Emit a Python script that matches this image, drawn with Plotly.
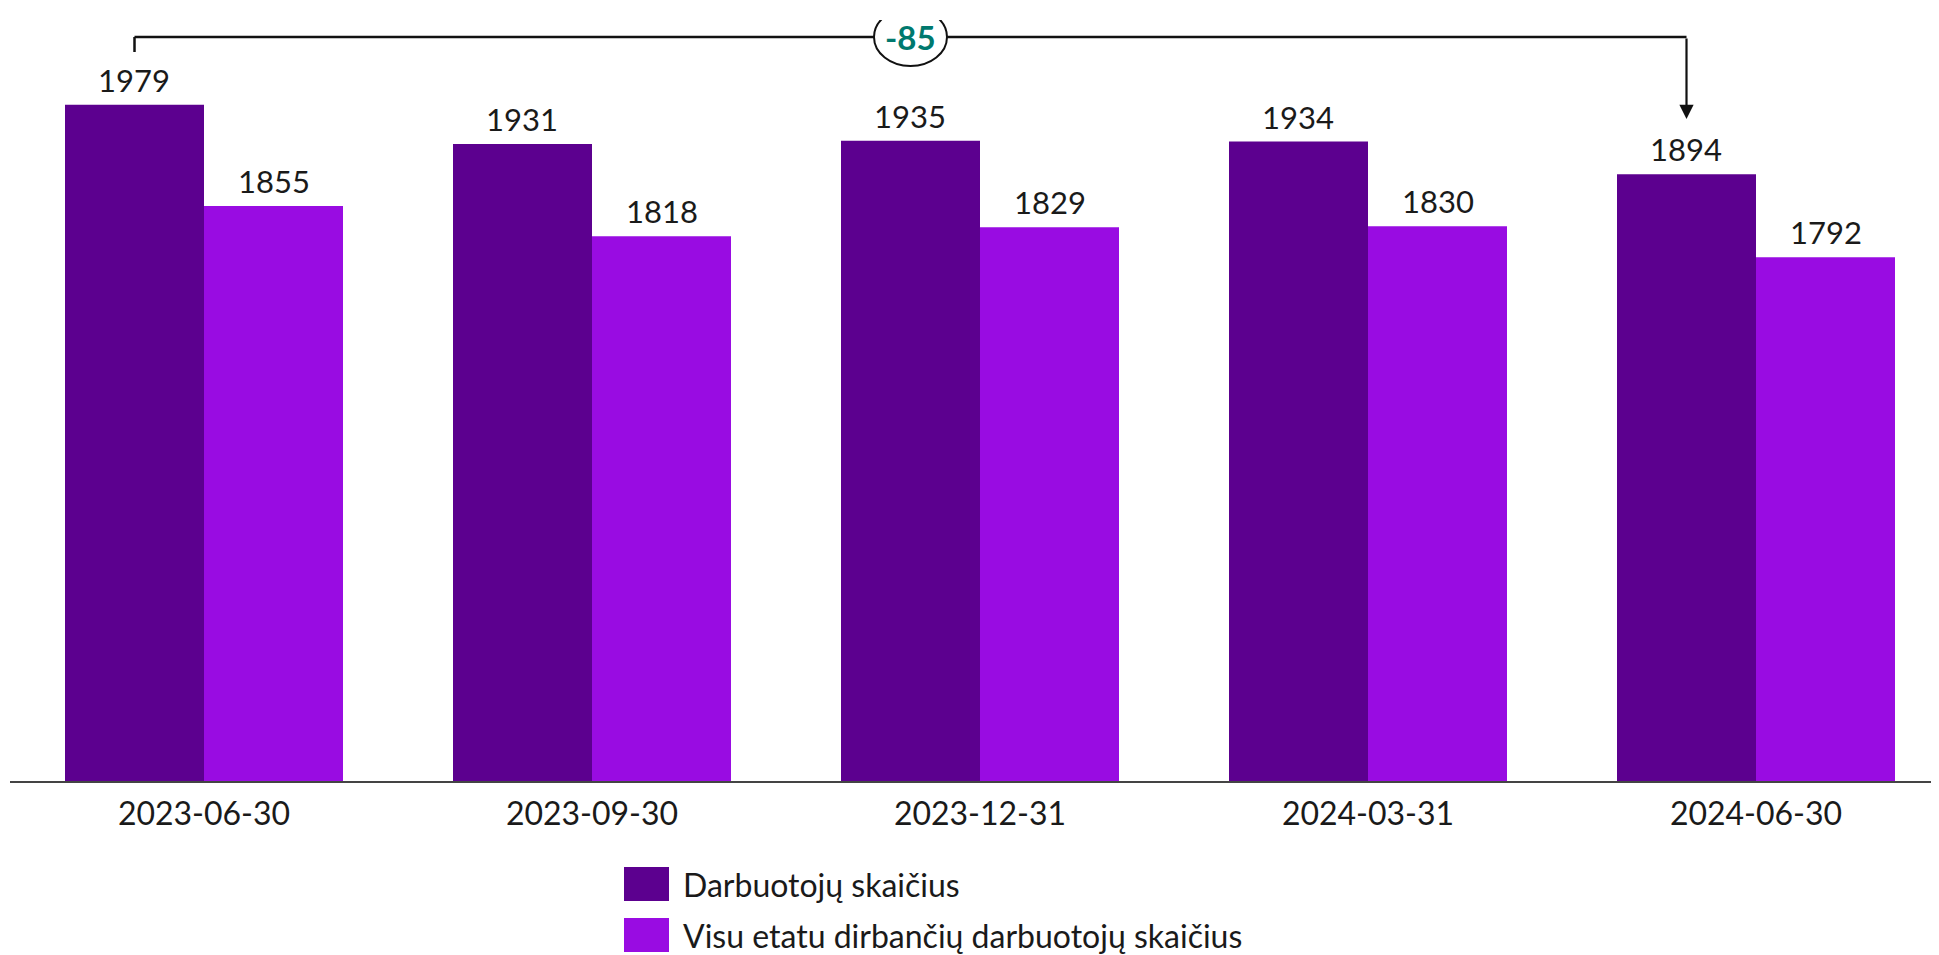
import plotly.graph_objects as go

categories = ["2023-06-30", "2023-09-30", "2023-12-31", "2024-03-31", "2024-06-30"]
employees = [1979, 1931, 1935, 1934, 1894]
full_time = [1855, 1818, 1829, 1830, 1792]
series_names = ["Darbuotojų skaičius", "Visu etatu dirbančių darbuotojų skaičius"]
colors = ["#5C008F", "#990CE2"]

FONT = "Lato"
Y_MIN = 1150
Y_MAX = 2083
BARGAP = 0.2835
half_bar = (1 - BARGAP) / 4  # offset of each bar's center from category center

# page offset (body margin) compensation
OFF = 8
PLOT_L, PLOT_R, PLOT_T, PLOT_B = 10, 1939, 20, 781  # page pixels
W, H = 1939 - OFF, 955 - OFF
PW, PH = PLOT_R - PLOT_L, PLOT_B - PLOT_T
CAT_PX = 388  # pixel spacing between categories


def px(x):
    return (x - PLOT_L) / PW


def py(y):
    return (PLOT_B - y) / PH


fig = go.Figure()
for i, (name, vals, col) in enumerate(zip(series_names, [employees, full_time], colors)):
    fig.add_trace(go.Bar(
        x=categories, y=vals, name=name, marker=dict(color=col, line=dict(width=0)),
        cliponaxis=False, showlegend=False,
    ))
    shift = (-1 if i == 0 else 1) * half_bar * CAT_PX
    for c, v in zip(categories, vals):
        fig.add_annotation(x=c, y=v, xref="x", yref="y", xshift=shift, yshift=25,
                           yanchor="middle", showarrow=False, text=str(v),
                           font=dict(family=FONT, size=31, color="#1a1a1a"))

# bracket from first to last "employees" bar
x_left = 0 - half_bar
x_right = len(categories) - 1 - half_bar
x_mid = (x_left + x_right) / 2
px_per_unit = PH / (Y_MAX - Y_MIN)


def yd(y):
    return Y_MIN + (PLOT_B - y) / px_per_unit


y_br = yd(37)
y_tick_end = yd(52)
y_arrow_tip = yd(119)

line = dict(color="#111111", width=2.5)
fig.add_shape(type="line", xref="x", yref="y", x0=x_left, x1=x_right, y0=y_br, y1=y_br, line=line)
fig.add_shape(type="line", xref="x", yref="y", x0=x_left, x1=x_left, y0=y_br, y1=y_tick_end, line=line)
fig.add_annotation(x=x_right, y=y_arrow_tip, ax=x_right, ay=y_br, xref="x", yref="y",
                   axref="x", ayref="y", showarrow=True, arrowhead=2, arrowsize=1.3,
                   arrowwidth=2.2, arrowcolor="#111111", text="")
fig.add_shape(type="circle", xref="x", yref="y", xsizemode="pixel", ysizemode="pixel",
              xanchor=x_mid, yanchor=y_br, x0=-36.5, x1=36.5, y0=-29, y1=29,
              fillcolor="white", line=dict(color="#111111", width=2))
fig.add_annotation(x=x_mid, y=y_br, xref="x", yref="y", showarrow=False,
                   text=f"<b>{employees[-1] - employees[0]}</b>",
                   font=dict(family=FONT, size=33, color="#00796E"))

# manual legend
legend_rows = [(884, colors[0], series_names[0]), (935, colors[1], series_names[1])]
for yc, col, name in legend_rows:
    fig.add_shape(type="rect", xref="paper", yref="paper",
                  x0=px(624), x1=px(669), y0=py(yc + 17), y1=py(yc - 17),
                  fillcolor=col, line=dict(width=0))
    fig.add_annotation(xref="paper", yref="paper", x=px(681), y=py(yc),
                       xanchor="left", yanchor="middle", showarrow=False, text=name,
                       font=dict(family=FONT, size=32, color="#1a1a1a"))

fig.update_layout(
    width=W, height=H,
    margin=dict(l=PLOT_L - OFF, r=W - (PLOT_R - OFF), t=PLOT_T - OFF, b=H - (PLOT_B - OFF)),
    paper_bgcolor="white", plot_bgcolor="white",
    barmode="group", bargap=BARGAP, bargroupgap=0,
    font=dict(family=FONT, color="#1a1a1a"),
    xaxis=dict(type="category", range=[-0.5, -0.5 + PW / CAT_PX], showgrid=False, showline=True,
               linecolor="#444444", linewidth=2, ticks="", tickfont=dict(size=32, family=FONT, color="#1a1a1a"),
               ticklabelstandoff=4),
    yaxis=dict(range=[Y_MIN, Y_MAX], visible=False, showgrid=False),
)

fig.write_html("out.html")
